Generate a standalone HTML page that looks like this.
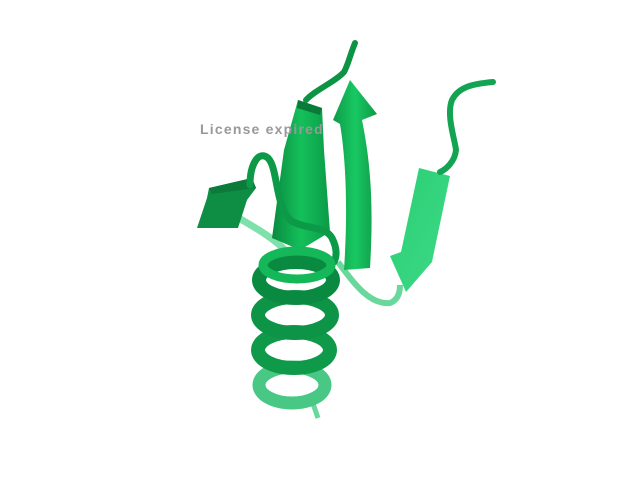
<!DOCTYPE html>
<html><head><meta charset="utf-8"><style>
html,body{margin:0;padding:0;background:#fff;width:640px;height:480px;overflow:hidden}
svg{display:block}
</style></head><body>
<svg width="640" height="480" viewBox="0 0 640 480">
<defs>
<linearGradient id="g1" x1="0" y1="0" x2="1" y2="0"><stop offset="0" stop-color="#0a8a40"/><stop offset="0.5" stop-color="#14c05a"/><stop offset="1" stop-color="#0c9a48"/></linearGradient>
<linearGradient id="g2" x1="0" y1="0" x2="1" y2="0"><stop offset="0" stop-color="#0e9a48"/><stop offset="0.5" stop-color="#18c862"/><stop offset="1" stop-color="#0e9a48"/></linearGradient>
<linearGradient id="g3" x1="0" y1="0" x2="1" y2="1"><stop offset="0" stop-color="#28d070"/><stop offset="1" stop-color="#40d88a"/></linearGradient>
</defs>
<rect width="640" height="480" fill="#fff"/>
<path d="M232,214 C250,225 270,235 285,250" stroke="#7ee0aa" stroke-width="7" fill="none"/>
<path d="M338,262 C355,285 370,305 390,303 C398,300 400,292 400,285" stroke="#6ad89c" stroke-width="6" fill="none"/>
<path d="M310,395 L318,418" stroke="#6ad89c" stroke-width="5" fill="none"/>
<polygon points="197,228 207,198 209,188 252,178 256,188 247,200 238,228" fill="#0e8e44"/>
<polygon points="209,188 252,178 256,188 212,194" fill="#0b7a3a"/>
<polygon points="298,100 322,108 324,150 330,232 300,250 272,238 284,150" fill="url(#g1)"/>
<polygon points="298,100 322,108 320,115 297,108" fill="#0a7a38"/>
<path d="M350,80 L377,114 L362,120 C370,160 374,200 370,268 L344,270 C348,210 346,160 340,124 L333,120 Z" fill="url(#g2)"/>
<polygon points="419,168 450,176 433,257 432,262 406,292 390,256 401,252" fill="url(#g3)"/>
<path d="M355,43 C350,55 348,65 344,72 C335,82 315,90 306,100" stroke="#0c9444" stroke-width="6" fill="none" stroke-linecap="round"/>
<path d="M493,82 C470,84 458,88 452,100 C446,115 455,140 456,150 C455,162 445,170 440,172" stroke="#12a452" stroke-width="6" fill="none" stroke-linecap="round"/>
<path d="M250,185 C250,165 258,150 268,158 C278,168 275,205 290,220 C305,230 325,225 332,238 C338,250 336,258 334,262" stroke="#0c9a48" stroke-width="7" fill="none" stroke-linecap="round"/>
<g fill="none">
<ellipse cx="292" cy="385" rx="33" ry="18" stroke="#48c884" stroke-width="13"/>
<ellipse cx="294" cy="350" rx="36" ry="18" stroke="#0f9a4a" stroke-width="14"/>
<ellipse cx="295" cy="315" rx="37" ry="18" stroke="#0d9446" stroke-width="14"/>
<ellipse cx="296" cy="280" rx="37" ry="18" stroke="#0a8a40" stroke-width="14"/>
<ellipse cx="297" cy="265" rx="34" ry="14" stroke="#14b858" stroke-width="9"/>
</g>
<text x="200" y="134" font-family="Liberation Sans, sans-serif" font-weight="bold" font-size="14" letter-spacing="1.2" fill="#999">License expired</text>
</svg>
</body></html>
